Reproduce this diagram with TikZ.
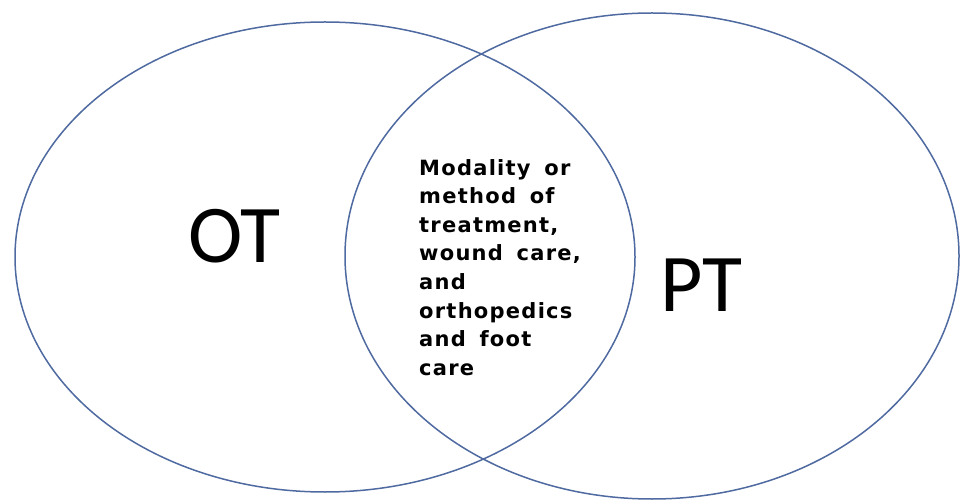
\documentclass[tikz,border=0pt]{standalone}
\usepackage{fontspec}
\setmainfont{Carlito}
\newfontfamily\boxfont[LetterSpace=6,WordSpace=1.6]{DejaVu Sans}
\usetikzlibrary{shapes.geometric}
\definecolor{ringblue}{RGB}{79,106,160}
\tikzset{ring/.style={draw=ringblue,line width=1.5pt,ellipse,inner sep=0pt}}

\begin{document}
\begin{tikzpicture}[x=1pt,y=1pt]
\useasboundingbox (0,0) rectangle (961,501);
\node[ring,minimum width=620pt,minimum height=470pt] (O) at (325,244) {};
\node[ring,minimum width=614pt,minimum height=486pt] (P) at (652,245) {};
\node[anchor=base west,inner sep=0pt,font=\fontsize{82}{82}\selectfont] (OT) at (188,238) {OT};
\node[anchor=base west,inner sep=0pt,font=\fontsize{82}{82}\selectfont] (PT) at (660,189) {PT};
\node[anchor=north west,inner sep=0pt,align=left,font=\boxfont\bfseries\fontsize{21}{28.6}\selectfont] (M) at (419,342)
  {Modality or\\method of\\treatment,\\wound care,\\and\\orthopedics\\and foot\\care};
\end{tikzpicture}
\end{document}
